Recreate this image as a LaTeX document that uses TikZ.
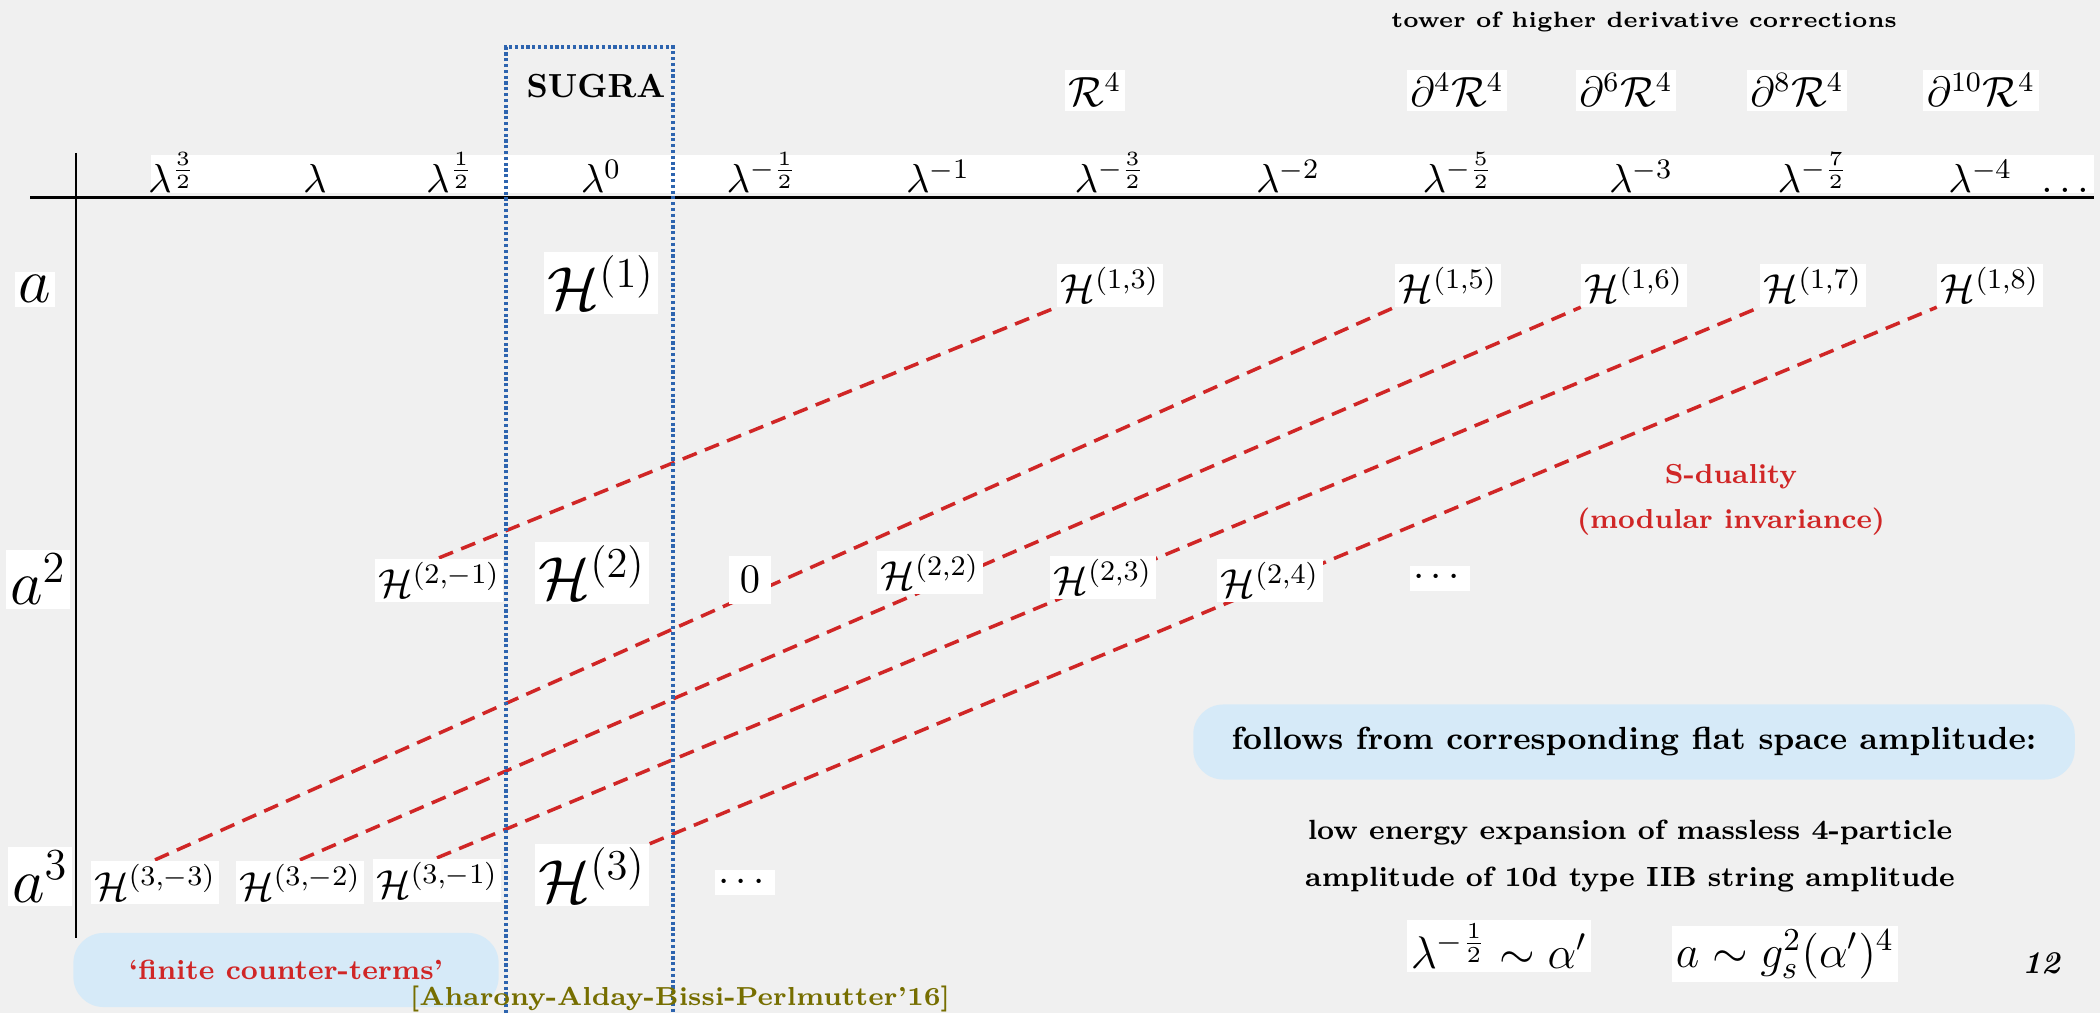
\RequirePackage{fix-cm}
\documentclass[tikz,border=0pt]{standalone}
\usepackage{amsmath}
\usepackage{amssymb}
\usepackage{fontspec}
\usepackage{tikz}
\definecolor{sugrablue}{RGB}{45,100,175}
\definecolor{dualred}{RGB}{208,38,38}
\definecolor{refolive}{RGB}{118,110,0}
\definecolor{pillblue}{RGB}{214,234,248}
\definecolor{paper}{RGB}{240,240,240}
\pgfdeclarelayer{paper}
\pgfdeclarelayer{lines}
\pgfsetlayers{paper,lines,main}

\begin{document}
\begin{tikzpicture}[
    x=0.01cm, y=-0.01cm,
    lam/.style={anchor=base, inner sep=0pt, font=\fontsize{11.5}{13}\selectfont},
    cterm/.style={anchor=base, fill=white, inner sep=1pt, font=\fontsize{11.5}{13}\selectfont},
    bigterm/.style={anchor=base, fill=white, inner sep=1pt, font=\fontsize{17.3}{20}\selectfont},
    rowlab/.style={anchor=base, fill=white, inner sep=1pt, font=\fontsize{18}{20}\selectfont},
    deriv/.style={anchor=base, fill=white, inner sep=1pt, font=\fontsize{12}{14}\selectfont},
    pill/.style={fill=pillblue, rounded corners=3mm, inner sep=0pt},
    sline/.style={draw=dualred, line width=1pt, dash pattern=on 4.3pt off 2.5pt},
    axis/.style={line width=0.85pt}
]
\useasboundingbox (0,0) rectangle (2100,1013);
\begin{pgfonlayer}{paper}
\fill[paper] (0,0) rectangle (2100,1013);
\fill[white] (151,155) rectangle (2094,193);
\end{pgfonlayer}

\node[anchor=base, font=\bfseries\fontsize{6.3}{8}\selectfont] (tower) at (1644,28) {tower of higher derivative corrections};
\node[anchor=base, font=\bfseries\fontsize{9.5}{11}\selectfont] (sugra) at (596,98) {SUGRA};
\node[deriv] (r4) at (1095,107) {$\mathcal{R}^4$};
\node[deriv] (d4r4) at (1457,107) {$\partial^4\mathcal{R}^4$};
\node[deriv] (d6r4) at (1626,107) {$\partial^6\mathcal{R}^4$};
\node[deriv] (d8r4) at (1797,107) {$\partial^8\mathcal{R}^4$};
\node[deriv] (d10r4) at (1981,107) {$\partial^{10}\mathcal{R}^4$};

\node[lam] (l1) at (172,193) {$\lambda^{\frac{3}{2}}$};
\node[lam] (l2) at (315,193) {$\lambda$};
\node[lam] (l3) at (450,193) {$\lambda^{\frac{1}{2}}$};
\node[lam] (l4) at (601,193) {$\lambda^0$};
\node[lam] (l5) at (762,193) {$\lambda^{-\frac{1}{2}}$};
\node[lam] (l6) at (938,193) {$\lambda^{-1}$};
\node[lam] (l7) at (1110,193) {$\lambda^{-\frac{3}{2}}$};
\node[lam] (l8) at (1288,193) {$\lambda^{-2}$};
\node[lam] (l9) at (1458,193) {$\lambda^{-\frac{5}{2}}$};
\node[lam] (l10) at (1641,193) {$\lambda^{-3}$};
\node[lam] (l11) at (1813,193) {$\lambda^{-\frac{7}{2}}$};
\node[lam, anchor=base east] (l12) at (2096,193) {$\lambda^{-4}\;\;\dots$};

\draw[axis] (30,198) -- (2094,198);
\draw[axis] (76,153) -- (76,938);

\node[rowlab] (a1) at (35,303) {$a$};
\node[rowlab] (a2) at (38,605) {$a^2$};
\node[rowlab] (a3) at (40,902) {$a^3$};

\node[bigterm] (h1) at (601,310) {$\mathcal{H}^{(1)}$};
\node[cterm] (h13) at (1110,303) {$\mathcal{H}^{(1,3)}$};
\node[cterm] (h15) at (1448,303) {$\mathcal{H}^{(1,5)}$};
\node[cterm] (h16) at (1634,303) {$\mathcal{H}^{(1,6)}$};
\node[cterm] (h17) at (1813,303) {$\mathcal{H}^{(1,7)}$};
\node[cterm] (h18) at (1990,303) {$\mathcal{H}^{(1,8)}$};

\node[cterm] (h2m1) at (439,598) {$\mathcal{H}^{(2,-1)}$};
\node[bigterm] (h2) at (592,600) {$\mathcal{H}^{(2)}$};
\node[cterm, inner sep=3pt] (zero) at (750,593) {$0$};
\node[cterm] (h22) at (930,590) {$\mathcal{H}^{(2,2)}$};
\node[cterm] (h23) at (1103,595) {$\mathcal{H}^{(2,3)}$};
\node[cterm] (h24) at (1270,598) {$\mathcal{H}^{(2,4)}$};
\node[cterm] (dots2) at (1440,587) {$\cdots$};

\node[cterm] (h3m3) at (155,900) {$\mathcal{H}^{(3,-3)}$};
\node[cterm] (h3m2) at (300,900) {$\mathcal{H}^{(3,-2)}$};
\node[cterm] (h3m1) at (437,898) {$\mathcal{H}^{(3,-1)}$};
\node[bigterm] (h3) at (592,902) {$\mathcal{H}^{(3)}$};
\node[cterm] (dots3) at (745,891) {$\cdots$};

\draw[sugrablue, line width=1pt, dash pattern=on 0.9pt off 0.75pt] (506,1013) -- (506,47) -- (673,47) -- (673,1013);

\begin{pgfonlayer}{lines}
\draw[sline] (h2m1.north) -- (h13.south west);
\draw[sline] (h3m3.north) -- (h15.south west);
\draw[sline] (h3m2.north) -- (h16.south west);
\draw[sline] (h3m1.north) -- (h17.south west);
\draw[sline] (h3.north east) -- (h18.south west);
\end{pgfonlayer}

\node[align=center, text=dualred, font=\bfseries\fontsize{7.8}{12.8}\selectfont] (sdual) at (1731,500) {S-duality\\(modular invariance)};

\node[pill, minimum width=8.81cm, minimum height=0.75cm, font=\bfseries\fontsize{9.1}{11}\selectfont] (flat) at (1634,742) {follows from corresponding flat space amplitude:};
\node[align=center, font=\bfseries\fontsize{7.9}{13.4}\selectfont] (lowen) at (1630,856) {low energy expansion of massless 4-particle\\amplitude of 10d type IIB string amplitude};
\node[anchor=base, fill=white, inner sep=1pt, font=\fontsize{13}{15}\selectfont] (alpha) at (1499,968) {$\lambda^{-\frac{1}{2}}\sim\alpha'$};
\node[anchor=base, fill=white, inner sep=1pt, font=\fontsize{13}{15}\selectfont] (gs) at (1785,967) {$a\sim g_s^2(\alpha')^4$};
\node[anchor=base, font=\bfseries\itshape\fontsize{9}{11}\selectfont] (page) at (2041,973) {12};

\node[pill, minimum width=4.25cm, minimum height=0.74cm, text=dualred, font=\bfseries\fontsize{7.9}{10}\selectfont] (finite) at (286,970) {`finite counter-terms'};
\node[anchor=base, text=refolive, font=\bfseries\fontsize{7.4}{9}\selectfont] (aabp) at (680,1005) {[Aharony-Alday-Bissi-Perlmutter'16]};
\end{tikzpicture}
\end{document}
